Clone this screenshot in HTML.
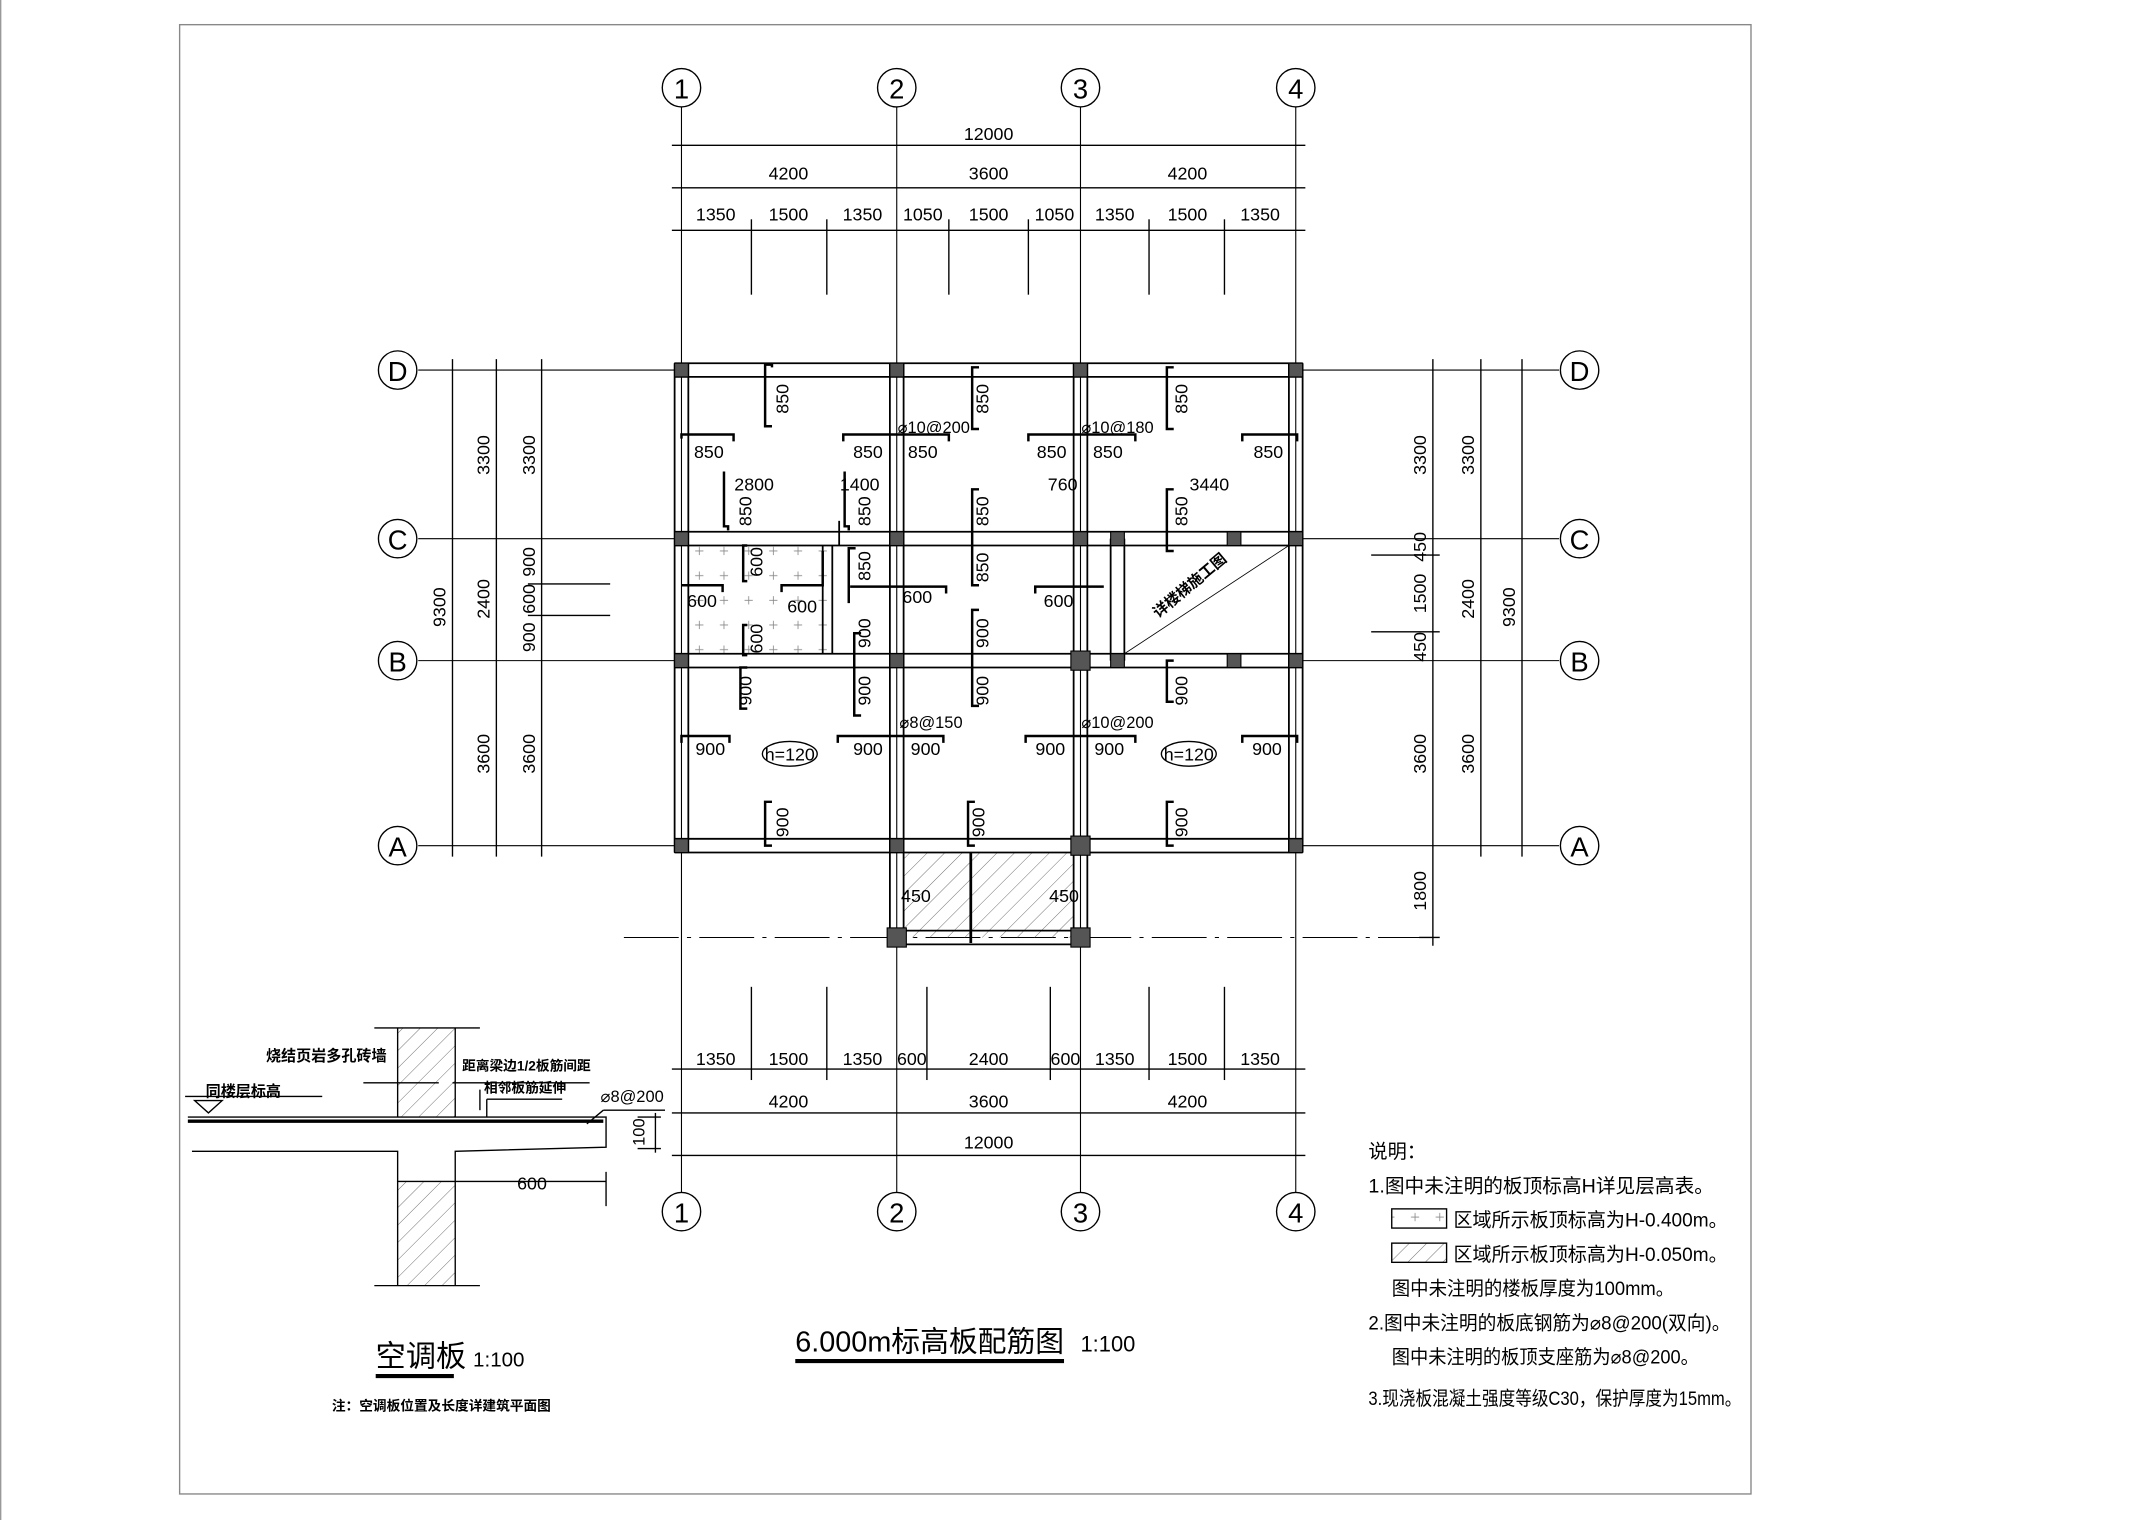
<!DOCTYPE html>
<html><head><meta charset="utf-8"><style>
html,body{margin:0;padding:0;background:#fff;}
svg{display:block;}
text{font-family:"Liberation Sans","Noto Sans CJK SC",sans-serif;fill:#000;}
.t{font-size:13px;}
.d{stroke:#000;stroke-width:1;fill:none;}
.b{stroke:#000;stroke-width:1.3;fill:none;}
.g{stroke:#000;stroke-width:0.8;fill:none;}
</style></head><body>
<svg width="2150" height="1520" viewBox="0 0 1568 1109" preserveAspectRatio="none" xmlns="http://www.w3.org/2000/svg">
<defs>
<pattern id="h" width="9" height="9" patternUnits="userSpaceOnUse" patternTransform="rotate(45)"><line x1="0" y1="0" x2="0" y2="9" stroke="#555" stroke-width="0.6"/></pattern>
<pattern id="c" width="18" height="18" patternUnits="userSpaceOnUse"><path d="M6 3v6M3 6h6" stroke="#888" stroke-width="0.6"/></pattern>
</defs>
<rect width="1568" height="1109" fill="#fff"/>
<line x1="0.5" y1="0" x2="0.5" y2="1109" stroke="#999"/>
<rect x="131" y="18" width="1146" height="1072" fill="none" stroke="#888" stroke-width="1"/>

<g class="g">
<line x1="497" y1="78" x2="497" y2="870"/><line x1="654" y1="78" x2="654" y2="870"/>
<line x1="788" y1="78" x2="788" y2="870"/><line x1="945" y1="78" x2="945" y2="870"/>
<line x1="305" y1="270" x2="500" y2="270"/><line x1="940" y1="270" x2="1137" y2="270"/>
<line x1="305" y1="393" x2="500" y2="393"/><line x1="940" y1="393" x2="1137" y2="393"/>
<line x1="305" y1="482" x2="500" y2="482"/><line x1="940" y1="482" x2="1137" y2="482"/>
<line x1="305" y1="617" x2="500" y2="617"/><line x1="940" y1="617" x2="1137" y2="617"/>
<line x1="455" y1="684" x2="1050" y2="684" stroke-dasharray="40 6 3 6"/>
</g>
<g fill="#fff" stroke="#000" stroke-width="1">
<circle cx="497" cy="64" r="14"/><circle cx="654" cy="64" r="14"/><circle cx="788" cy="64" r="14"/><circle cx="945" cy="64" r="14"/>
<circle cx="497" cy="884" r="14"/><circle cx="654" cy="884" r="14"/><circle cx="788" cy="884" r="14"/><circle cx="945" cy="884" r="14"/>
<circle cx="290" cy="270" r="14"/><circle cx="290" cy="393" r="14"/><circle cx="290" cy="482" r="14"/><circle cx="290" cy="617" r="14"/>
<circle cx="1152" cy="270" r="14"/><circle cx="1152" cy="393" r="14"/><circle cx="1152" cy="482" r="14"/><circle cx="1152" cy="617" r="14"/>
</g>
<g font-size="20" text-anchor="middle">
<text x="497" y="72">1</text><text x="654" y="72">2</text><text x="788" y="72">3</text><text x="945" y="72">4</text>
<text x="497" y="892">1</text><text x="654" y="892">2</text><text x="788" y="892">3</text><text x="945" y="892">4</text>
<text x="290" y="278">D</text><text x="290" y="401">C</text><text x="290" y="490">B</text><text x="290" y="625">A</text>
<text x="1152" y="278">D</text><text x="1152" y="401">C</text><text x="1152" y="490">B</text><text x="1152" y="625">A</text>
</g>

<g class="d">
<line x1="490" y1="106" x2="952" y2="106"/><line x1="490" y1="137" x2="952" y2="137"/><line x1="490" y1="168" x2="952" y2="168"/>
<line x1="548" y1="160" x2="548" y2="215"/><line x1="603" y1="160" x2="603" y2="215"/>
<line x1="692" y1="160" x2="692" y2="215"/><line x1="750" y1="160" x2="750" y2="215"/>
<line x1="838" y1="160" x2="838" y2="215"/><line x1="893" y1="160" x2="893" y2="215"/>
<line x1="490" y1="780" x2="952" y2="780"/><line x1="490" y1="812" x2="952" y2="812"/><line x1="490" y1="843" x2="952" y2="843"/>
<line x1="548" y1="720" x2="548" y2="788"/><line x1="603" y1="720" x2="603" y2="788"/>
<line x1="676" y1="720" x2="676" y2="788"/><line x1="766" y1="720" x2="766" y2="788"/>
<line x1="838" y1="720" x2="838" y2="788"/><line x1="893" y1="720" x2="893" y2="788"/>
<line x1="330" y1="262" x2="330" y2="625"/><line x1="362" y1="262" x2="362" y2="625"/><line x1="395" y1="262" x2="395" y2="625"/>
<line x1="385" y1="426" x2="445" y2="426"/><line x1="385" y1="449" x2="445" y2="449"/>
<line x1="1045" y1="262" x2="1045" y2="690"/><line x1="1080" y1="262" x2="1080" y2="625"/><line x1="1110" y1="262" x2="1110" y2="625"/>
<line x1="1000" y1="405" x2="1050" y2="405"/><line x1="1000" y1="461" x2="1050" y2="461"/>
<line x1="1035" y1="684" x2="1050" y2="684"/>
</g>
<g class="t" text-anchor="middle">
<text x="721" y="102">12000</text>
<text x="575" y="131">4200</text><text x="721" y="131">3600</text><text x="866" y="131">4200</text>
<text x="522" y="161">1350</text><text x="575" y="161">1500</text><text x="629" y="161">1350</text>
<text x="673" y="161">1050</text><text x="721" y="161">1500</text><text x="769" y="161">1050</text>
<text x="813" y="161">1350</text><text x="866" y="161">1500</text><text x="919" y="161">1350</text>
<text x="522" y="777">1350</text><text x="575" y="777">1500</text><text x="629" y="777">1350</text>
<text x="665" y="777">600</text><text x="721" y="777">2400</text><text x="777" y="777">600</text>
<text x="813" y="777">1350</text><text x="866" y="777">1500</text><text x="919" y="777">1350</text>
<text x="575" y="808">4200</text><text x="721" y="808">3600</text><text x="866" y="808">4200</text>
<text x="721" y="838">12000</text>
</g>
<g class="t" text-anchor="middle">
<text transform="translate(325,443) rotate(-90)">9300</text>
<text transform="translate(357,332) rotate(-90)">3300</text><text transform="translate(357,437) rotate(-90)">2400</text><text transform="translate(357,550) rotate(-90)">3600</text>
<text transform="translate(390,332) rotate(-90)">3300</text><text transform="translate(390,410) rotate(-90)">900</text><text transform="translate(390,437) rotate(-90)">600</text><text transform="translate(390,465) rotate(-90)">900</text>
<text transform="translate(390,550) rotate(-90)">3600</text>
<text transform="translate(1040,332) rotate(-90)">3300</text><text transform="translate(1040,399) rotate(-90)">450</text><text transform="translate(1040,433) rotate(-90)">1500</text><text transform="translate(1040,472) rotate(-90)">450</text>
<text transform="translate(1040,550) rotate(-90)">3600</text><text transform="translate(1040,650) rotate(-90)">1800</text>
<text transform="translate(1075,332) rotate(-90)">3300</text><text transform="translate(1075,437) rotate(-90)">2400</text><text transform="translate(1075,550) rotate(-90)">3600</text>
<text transform="translate(1105,443) rotate(-90)">9300</text>
</g>

<rect x="500" y="398" width="105" height="80" fill="url(#c)"/>
<rect x="659" y="622" width="124" height="62" fill="url(#h)"/>
<g class="b">
<line x1="492" y1="265" x2="950" y2="265"/><line x1="492" y1="275" x2="950" y2="275"/>
<line x1="492" y1="388" x2="950" y2="388"/><line x1="492" y1="398" x2="950" y2="398"/>
<line x1="492" y1="477" x2="950" y2="477"/><line x1="492" y1="487" x2="950" y2="487"/>
<line x1="492" y1="612" x2="950" y2="612"/><line x1="492" y1="622" x2="950" y2="622"/>
<line x1="492" y1="265" x2="492" y2="622"/><line x1="502" y1="265" x2="502" y2="622"/>
<line x1="649" y1="265" x2="649" y2="690"/><line x1="659" y1="265" x2="659" y2="690"/>
<line x1="783" y1="265" x2="783" y2="690"/><line x1="793" y1="265" x2="793" y2="690"/>
<line x1="940" y1="265" x2="940" y2="622"/><line x1="950" y1="265" x2="950" y2="622"/>
<line x1="649" y1="679" x2="793" y2="679"/><line x1="649" y1="689" x2="793" y2="689"/>
<line x1="810" y1="393" x2="810" y2="482"/><line x1="820" y1="393" x2="820" y2="482"/>
<line x1="600" y1="398" x2="600" y2="477"/><line x1="607" y1="398" x2="607" y2="477"/>
<line x1="612" y1="380" x2="612" y2="398"/>
<line x1="708" y1="622" x2="708" y2="688" stroke-width="2"/>
</g>
<line x1="820" y1="477" x2="940" y2="398" stroke="#000" stroke-width="0.6"/>
<text transform="translate(870,430) rotate(-40)" font-size="11" font-weight="bold" text-anchor="middle">详楼梯施工图</text>
<g fill="#555" stroke="#000" stroke-width="0.8">
<rect x="492" y="265" width="10" height="10"/><rect x="649" y="265" width="10" height="10"/><rect x="783" y="265" width="10" height="10"/><rect x="940" y="265" width="10" height="10"/>
<rect x="492" y="388" width="10" height="10"/><rect x="649" y="388" width="10" height="10"/><rect x="783" y="388" width="10" height="10"/><rect x="940" y="388" width="10" height="10"/><rect x="810" y="388" width="10" height="10"/><rect x="895" y="388" width="10" height="10"/>
<rect x="492" y="477" width="10" height="10"/><rect x="649" y="477" width="10" height="10"/><rect x="781" y="475" width="14" height="14"/><rect x="940" y="477" width="10" height="10"/><rect x="810" y="477" width="10" height="10"/><rect x="895" y="477" width="10" height="10"/>
<rect x="492" y="612" width="10" height="10"/><rect x="649" y="612" width="10" height="10"/><rect x="781" y="610" width="14" height="14"/><rect x="940" y="612" width="10" height="10"/>
<rect x="647" y="677" width="14" height="14"/><rect x="781" y="677" width="14" height="14"/>
</g>
<g stroke="#000" stroke-width="1.8" fill="none">
<path d="M563 268v-2h-5v45h5"/><path d="M714 268h-5v45h5"/><path d="M856 268h-5v45h5"/>
<path d="M497 320v-3h38v5"/><path d="M615 322v-5h77v5"/><path d="M750 322v-5h78v5"/><path d="M906 322v-5h40v5"/>
<path d="M531 387v-3h-3v-40"/><path d="M619 387v-3h-3v-40"/><path d="M714 357h-5v70h5"/><path d="M856 357h-5v45h5"/>
<path d="M545 398h-3v26h3"/><path d="M545 456h-3v22h3"/><path d="M497 427h30v5"/><path d="M570 432v-5h30v-25"/>
<path d="M620 428h70v5"/><path d="M755 433v-5h50"/><path d="M619 440v-40h5"/>
<path d="M628 462h-5v60h5"/><path d="M714 445h-5v70h5"/><path d="M545 487h-5v30h5"/><path d="M856 482h-5v30h5"/>
<path d="M497 542v-5h35v5"/><path d="M611 542v-5h77v5"/><path d="M748 542v-5h80v5"/><path d="M906 542v-5h40v5"/>
<path d="M563 585h-5v32h5"/><path d="M711 585h-5v32h5"/><path d="M856 585h-5v32h5"/>
</g>
<g class="t" text-anchor="middle">
<text transform="translate(575,291) rotate(-90)">850</text><text transform="translate(721,291) rotate(-90)">850</text><text transform="translate(866,291) rotate(-90)">850</text>
<text x="517" y="334">850</text><text x="633" y="334">850</text><text x="673" y="334">850</text><text x="767" y="334">850</text><text x="808" y="334">850</text><text x="925" y="334">850</text>
<text x="681" y="316" font-size="12">⌀10@200</text><text x="815" y="316" font-size="12">⌀10@180</text>
<text x="550" y="358">2800</text><text x="627" y="358">1400</text><text x="775" y="358">760</text><text x="882" y="358">3440</text>
<text transform="translate(548,373) rotate(-90)">850</text><text transform="translate(635,373) rotate(-90)">850</text><text transform="translate(721,373) rotate(-90)">850</text><text transform="translate(866,373) rotate(-90)">850</text>
<text transform="translate(556,410) rotate(-90)">600</text><text transform="translate(635,413) rotate(-90)">850</text><text transform="translate(721,414) rotate(-90)">850</text>
<text x="512" y="443">600</text><text x="585" y="447">600</text><text x="669" y="440">600</text><text x="772" y="443">600</text>
<text transform="translate(556,466) rotate(-90)">600</text><text transform="translate(635,462) rotate(-90)">900</text><text transform="translate(721,462) rotate(-90)">900</text>
<text transform="translate(548,504) rotate(-90)">900</text><text transform="translate(635,504) rotate(-90)">900</text><text transform="translate(721,504) rotate(-90)">900</text><text transform="translate(866,504) rotate(-90)">900</text>
<text x="679" y="531" font-size="12">⌀8@150</text><text x="815" y="531" font-size="12">⌀10@200</text>
<text x="518" y="551">900</text><text x="633" y="551">900</text><text x="675" y="551">900</text><text x="766" y="551">900</text><text x="809" y="551">900</text><text x="924" y="551">900</text>
<text transform="translate(575,600) rotate(-90)">900</text><text transform="translate(718,600) rotate(-90)">900</text><text transform="translate(866,600) rotate(-90)">900</text>
<text x="668" y="658">450</text><text x="776" y="658">450</text>
<text x="576" y="555">h=120</text><text x="867" y="555">h=120</text>
</g>
<ellipse cx="576" cy="550" rx="20" ry="9" class="d"/><ellipse cx="867" cy="550" rx="20" ry="9" class="d"/>

<text x="580" y="986" font-size="21" textLength="196" lengthAdjust="spacingAndGlyphs">6.000m标高板配筋图</text>
<line x1="580" y1="993" x2="776" y2="993" stroke="#000" stroke-width="3"/>
<text x="788" y="986" font-size="16">1:100</text>

<rect x="290" y="750" width="42" height="65" fill="url(#h)"/>
<rect x="290" y="862" width="42" height="76" fill="url(#h)"/>
<g class="d">
<line x1="290" y1="750" x2="290" y2="815"/><line x1="332" y1="750" x2="332" y2="815"/>
<line x1="290" y1="862" x2="290" y2="938"/><line x1="332" y1="862" x2="332" y2="938"/>
<line x1="273" y1="750" x2="350" y2="750"/><line x1="273" y1="938" x2="350" y2="938"/>
<path d="M137 815h305v22l-110 3v22h-42v-22h-150"/>
<line x1="332" y1="862" x2="442" y2="862"/><line x1="442" y1="855" x2="442" y2="880"/>
<line x1="465" y1="815" x2="482" y2="815"/><line x1="465" y1="838" x2="482" y2="838"/><line x1="478" y1="812" x2="478" y2="841"/>
<line x1="265" y1="790" x2="320" y2="790"/><line x1="330" y1="790" x2="430" y2="790"/>
<line x1="135" y1="800" x2="235" y2="800"/><line x1="350" y1="810" x2="350" y2="795"/><line x1="355" y1="815" x2="355" y2="802"/><line x1="355" y1="802" x2="410" y2="802"/>
<line x1="428" y1="820" x2="440" y2="810"/><line x1="440" y1="810" x2="485" y2="810"/>
<path d="M142 803l10 9 10 -9z"/>
</g>
<line x1="137" y1="818" x2="440" y2="818" stroke="#000" stroke-width="2.5"/>
<text x="194" y="774" font-size="11" font-weight="bold">烧结页岩多孔砖墙</text>
<text x="337" y="781" font-size="10" font-weight="bold">距离梁边1/2板筋间距</text>
<text x="353" y="797" font-size="10" font-weight="bold">相邻板筋延伸</text>
<text x="150" y="800" font-size="11" font-weight="bold">同楼层标高</text>
<text x="438" y="804" font-size="12">⌀8@200</text>
<text transform="translate(470,826) rotate(-90)" font-size="12" text-anchor="middle">100</text>
<text x="388" y="868" font-size="13" text-anchor="middle">600</text>
<text x="274" y="997" font-size="22">空调板</text>
<line x1="274" y1="1004" x2="331" y2="1004" stroke="#000" stroke-width="3"/>
<text x="345" y="997" font-size="15">1:100</text>
<text x="242" y="1029" font-size="10" font-weight="bold">注：空调板位置及长度详建筑平面图</text>

<g font-size="14">
<text x="998" y="845">说明：</text>
<text x="998" y="870" textLength="252" lengthAdjust="spacingAndGlyphs">1.图中未注明的板顶标高H详见层高表。</text>
<rect x="1015" y="882" width="40" height="14" fill="url(#c)" stroke="#000"/>
<text x="1060" y="895" textLength="200" lengthAdjust="spacingAndGlyphs">区域所示板顶标高为H-0.400m。</text>
<rect x="1015" y="907" width="40" height="14" fill="url(#h)" stroke="#000"/>
<text x="1060" y="920" textLength="200" lengthAdjust="spacingAndGlyphs">区域所示板顶标高为H-0.050m。</text>
<text x="1015" y="945" textLength="206" lengthAdjust="spacingAndGlyphs">图中未注明的楼板厚度为100mm。</text>
<text x="998" y="970" textLength="264" lengthAdjust="spacingAndGlyphs">2.图中未注明的板底钢筋为⌀8@200(双向)。</text>
<text x="1015" y="995" textLength="224" lengthAdjust="spacingAndGlyphs">图中未注明的板顶支座筋为⌀8@200。</text>
<text x="998" y="1025" textLength="272" lengthAdjust="spacingAndGlyphs">3.现浇板混凝土强度等级C30，保护厚度为15mm。</text>
</g>
</svg>
</body></html>
